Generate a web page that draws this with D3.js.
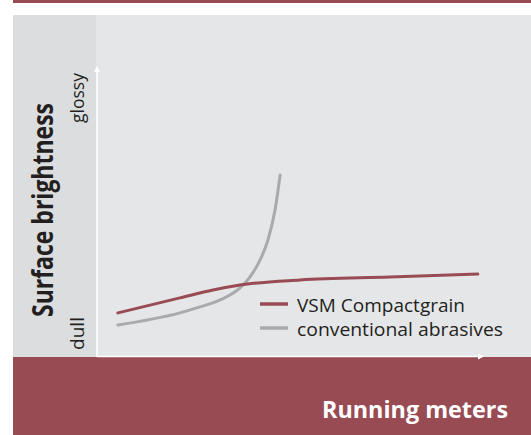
<!DOCTYPE html>
<html><head><meta charset="utf-8">
<script src="https://cdn.jsdelivr.net/npm/d3@7/dist/d3.min.js"></script>
<style>html,body{margin:0;padding:0;background:#fff;}svg{display:block;}</style>
</head><body>
<script>
// Data (abstract units: running meters 0-100, surface brightness 0-100)
const seriesNames = ["VSM Compactgrain", "conventional abrasives"];
const vsmX = [5.3, 21.1, 29.5, 36.4, 51.7, 74.6, 96.9];
const vsmY = [15.0, 20.1, 22.8, 24.5, 26.2, 27.2, 28.2];
const convX = [5.3, 21.1, 25.4, 31.3, 36.4, 38.9, 41.5, 43.5, 45.3, 46.6];
const convY = [10.9, 15.0, 16.7, 19.4, 23.5, 27.2, 33.0, 39.8, 50.0, 61.9];
const yTickLabels = ["dull", "glossy"];
const axisTitles = {x: "Running meters", y: "Surface brightness"};

const W = 531, H = 435;
const RED = "#984b53", GRAY = "#aaaaac", TXT = "#231f20";
const FONT = "'Open Sans', 'Noto Sans', sans-serif";

const svg = d3.select("body").append("svg").attr("width", W).attr("height", H);

const x = d3.scaleLinear().domain([0, 100]).range([97, 490]);
const y = d3.scaleLinear().domain([0, 100]).range([357, 63]);

// backgrounds
svg.append("rect").attr("x", 13).attr("y", 0).attr("width", W - 13).attr("height", 3).attr("fill", RED);
svg.append("rect").attr("x", 13).attr("y", 15).attr("width", W - 13).attr("height", 342).attr("fill", "#e5e6e8");
svg.append("rect").attr("x", 13).attr("y", 15).attr("width", 83).attr("height", 342).attr("fill", "#dcdddf");
svg.append("rect").attr("x", 13).attr("y", 357).attr("width", W - 13).attr("height", H - 357).attr("fill", RED);

// axes (white with arrowheads)
const defs = svg.append("defs");
defs.append("marker").attr("id", "arr").attr("viewBox", "0 0 10 10").attr("refX", 0).attr("refY", 5)
  .attr("markerWidth", 10).attr("markerHeight", 6).attr("markerUnits", "userSpaceOnUse").attr("orient", "auto")
  .append("path").attr("d", "M0,0L10,5L0,10Z").attr("fill", "#fff");

svg.append("line").attr("x1", x(0)).attr("y1", y(0)).attr("x2", x(0)).attr("y2", y(100) + 9)
  .attr("stroke", "#fff").attr("stroke-width", 1.5).attr("marker-end", "url(#arr)");
svg.append("line").attr("x1", x(0)).attr("y1", y(0) - 0.5).attr("x2", x(100) - 12).attr("y2", y(0) - 0.5)
  .attr("stroke", "#fff").attr("stroke-width", 1.5).attr("marker-end", "url(#arr)");

// y labels
const yLabPos = d3.scaleOrdinal().domain(yTickLabels).range([y(0) - 7, y(100) + 10]);
const yLabLen = d3.scaleOrdinal().domain(yTickLabels).range([33, 50]);
svg.selectAll("text.ylab").data(yTickLabels).join("text").attr("class", "ylab")
  .attr("transform", d => `translate(84,${yLabPos(d)}) rotate(-90)`)
  .attr("text-anchor", (d, i) => i === 0 ? "start" : "end")
  .attr("font-family", FONT).attr("font-size", 18).attr("fill", TXT)
  .attr("textLength", d => yLabLen(d)).attr("lengthAdjust", "spacingAndGlyphs")
  .text(d => d);

svg.append("text").attr("transform", `translate(53,210) rotate(-90)`).attr("text-anchor", "middle")
  .attr("font-family", FONT).attr("font-weight", "bold").attr("font-size", 28).attr("fill", TXT)
  .attr("textLength", 214).attr("lengthAdjust", "spacingAndGlyphs")
  .text(axisTitles.y);

svg.append("text").attr("x", 508).attr("y", 418).attr("text-anchor", "end")
  .attr("font-family", FONT).attr("font-weight", "bold").attr("font-size", 23).attr("fill", "#fff")
  .attr("textLength", 186).attr("lengthAdjust", "spacingAndGlyphs")
  .text(axisTitles.x);

// lines
const line = d3.line().x(d => x(d[0])).y(d => y(d[1])).curve(d3.curveMonotoneX);
const series = [
  {name: seriesNames[0], pts: d3.zip(vsmX, vsmY), color: RED, len: 168},
  {name: seriesNames[1], pts: d3.zip(convX, convY), color: GRAY, len: 206}
];
svg.append("path").datum(series[1].pts).attr("d", line).attr("fill", "none")
  .attr("stroke", GRAY).attr("stroke-width", 3).attr("stroke-linecap", "round");
svg.append("path").datum(series[0].pts).attr("d", line).attr("fill", "none")
  .attr("stroke", RED).attr("stroke-width", 3).attr("stroke-linecap", "round");

// legend
const lg = svg.append("g").attr("transform", "translate(260,304)");
series.forEach((s, i) => {
  lg.append("line").attr("x1", 0).attr("x2", 28).attr("y1", i * 24).attr("y2", i * 24)
    .attr("stroke", s.color).attr("stroke-width", 3.5);
  lg.append("text").attr("x", 37).attr("y", i * 24 + 7.5).attr("font-family", FONT).attr("font-size", 18.5)
    .attr("fill", TXT).attr("textLength", s.len).attr("lengthAdjust", "spacingAndGlyphs").text(s.name);
});
</script>
</body></html>
